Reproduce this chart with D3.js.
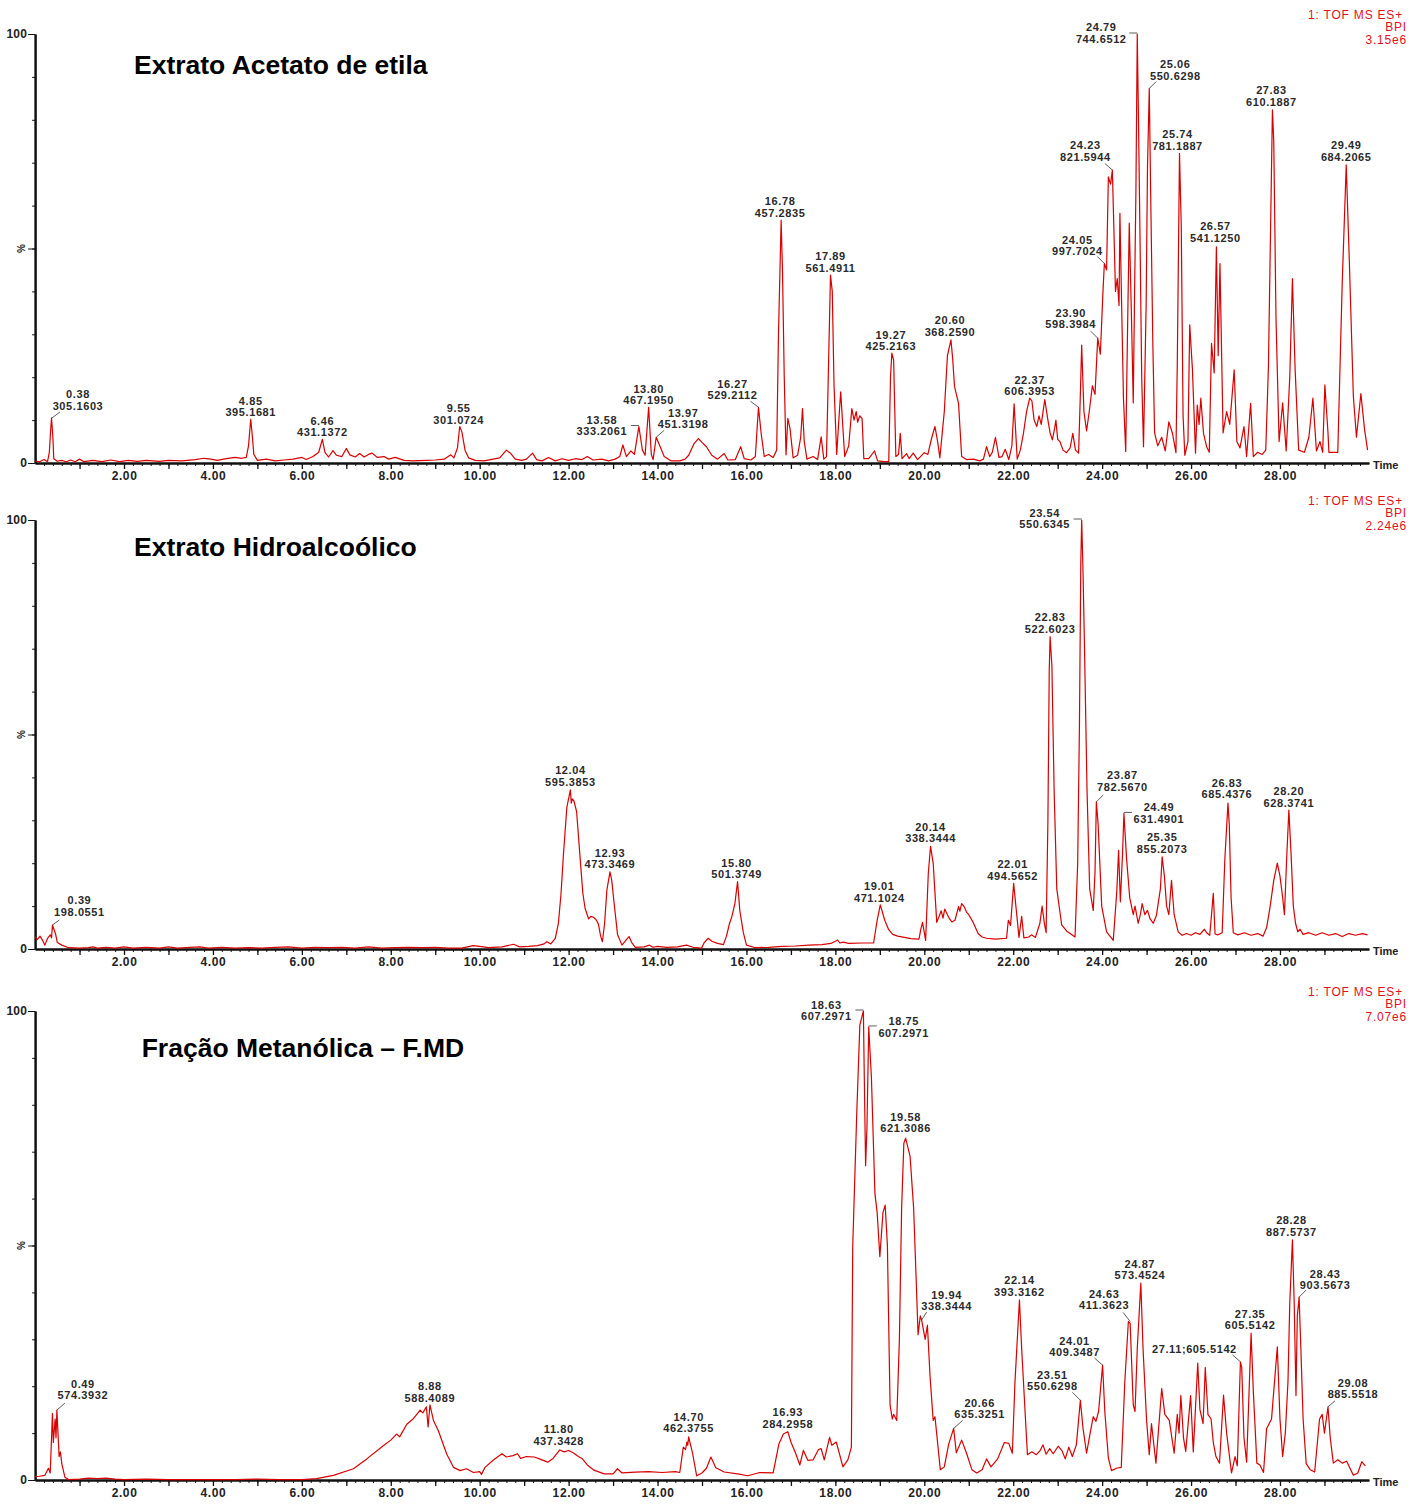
<!DOCTYPE html>
<html lang="en">
<head>
  <meta charset="UTF-8">
  <title>Cromatogramas BPI</title>
  <script src="https://d3js.org/d3.v7.min.js"></script>
  <style>
    body { margin: 0; background: #fff; }
    svg { display: block; font-family: Arial, "Liberation Sans", sans-serif; }
    .trace { fill: none; stroke: #d80000; stroke-width: 1.2px; stroke-linejoin: round; }
    .axis path, .axis line { stroke: #111; }
    .axis .domain { stroke-width: 2px; }
    .axis text { font-size: 12px; font-weight: bold; fill: #222; letter-spacing: 0.6px; }
    .title { font-size: 26.5px; font-weight: bold; fill: #000; }
    .info { font-size: 12px; fill: #e2101a; letter-spacing: 0.8px; text-anchor: end; }
    .peak { font-size: 11px; font-weight: bold; fill: #2a2a2a; letter-spacing: 0.6px; text-anchor: middle; }
    .leader { stroke: #333; stroke-width: 0.8px; }
    .small { font-size: 11px; font-weight: bold; fill: #222; }
  </style>
</head>
<body>

<svg width="1422" height="1508"></svg>

<script>
  // ---- data ----
  const titles = ["Extrato Acetato de etila", "Extrato Hidroalcoólico", "Fração Metanólica – F.MD"];
  const intensities = ["3.15e6", "2.24e6", "7.07e6"];
  const infoLines = ["1: TOF MS ES+", "BPI"];
  const xLabelTicks = [2, 4, 6, 8, 10, 12, 14, 16, 18, 20, 22, 24, 26, 28];

  // [time (min), relative intensity %]
  const acetatoTrace = [[0,0.4],[0.1,0.3],[0.2,0.8],[0.28,0.3],[0.32,2.5],[0.35,7.7],[0.37,10.5],[0.4,6],[0.42,1],[0.5,0.4],[0.6,0.6],[0.7,0.3],[0.8,0.7],[0.9,0.3],[1.0,0.9],[1.1,0.3],[1.3,0.6],[1.5,0.3],[1.7,0.7],[1.9,0.3],[2.1,0.6],[2.3,0.4],[2.5,0.6],[2.8,0.4],[3.0,0.6],[3.3,0.5],[3.6,0.8],[3.8,1.1],[3.95,0.9],[4.1,0.6],[4.3,1.0],[4.5,1.3],[4.65,1.1],[4.75,1.3],[4.8,4],[4.85,10.2],[4.88,7],[4.92,2],[5.0,0.6],[5.2,0.9],[5.4,0.5],[5.6,0.7],[5.8,0.9],[6.0,1.3],[6.1,0.8],[6.25,1.5],[6.38,2.5],[6.46,5.5],[6.52,2.5],[6.6,1.4],[6.7,2.9],[6.78,1.8],[6.9,1.5],[7.0,3.4],[7.08,1.9],[7.2,1.4],[7.3,2.2],[7.4,1.4],[7.5,2.0],[7.58,2.3],[7.7,1.3],[7.85,1.5],[7.95,0.9],[8.1,1.3],[8.3,0.6],[8.5,0.5],[8.8,0.6],[9.0,0.7],[9.2,0.9],[9.35,1.9],[9.42,1.2],[9.5,3.5],[9.55,8.5],[9.6,7.2],[9.67,3],[9.75,1.2],[9.9,0.6],[10.1,0.5],[10.3,0.9],[10.45,1.2],[10.6,3.0],[10.7,2.2],[10.8,0.9],[10.95,0.6],[11.05,0.9],[11.19,2.3],[11.28,0.8],[11.4,0.5],[11.55,1.3],[11.7,0.5],[11.85,1.0],[12.0,0.6],[12.15,1.0],[12.3,0.8],[12.42,1.5],[12.55,0.7],[12.75,0.9],[12.9,0.5],[13.05,0.9],[13.15,1.5],[13.22,4.2],[13.3,1.5],[13.4,2.8],[13.48,2.0],[13.58,8.5],[13.66,3.0],[13.72,1.8],[13.8,13.0],[13.86,2.0],[13.9,0.8],[13.97,6.0],[14.05,4],[14.15,1.5],[14.3,0.5],[14.5,0.5],[14.62,0.9],[14.7,1.8],[14.82,4.5],[14.92,5.7],[15.0,4.8],[15.1,3.8],[15.22,1.8],[15.35,0.9],[15.5,2.2],[15.58,0.7],[15.75,0.8],[15.87,3.8],[15.95,1.0],[16.1,0.7],[16.2,1.5],[16.27,13.0],[16.33,7],[16.4,1.5],[16.5,2.0],[16.6,1.3],[16.68,3],[16.72,30],[16.78,56.6],[16.81,45],[16.85,20],[16.89,1.9],[16.93,10.4],[16.98,8],[17.05,1.2],[17.15,1.8],[17.22,6],[17.26,12.7],[17.3,5],[17.36,0.9],[17.5,1.5],[17.6,0.8],[17.68,6.1],[17.74,0.9],[17.8,1.5],[17.84,20],[17.89,43.8],[17.93,40],[17.97,18],[18.03,2.0],[18.09,12],[18.12,16.6],[18.17,8],[18.21,1.5],[18.3,4],[18.37,12.7],[18.42,10],[18.47,12],[18.5,9.5],[18.55,11],[18.6,10.4],[18.64,1.0],[18.75,1.0],[18.88,2.8],[18.95,0.5],[19.1,0.3],[19.2,0.3],[19.24,20],[19.27,25.6],[19.31,24],[19.36,1.5],[19.42,2],[19.46,6.9],[19.5,1.0],[19.6,2.2],[19.66,1.0],[19.75,2.3],[19.85,0.8],[20.0,2.4],[20.08,2.0],[20.17,6],[20.24,8.5],[20.3,5],[20.35,1.2],[20.45,12],[20.52,25],[20.6,28.7],[20.64,24],[20.68,17.8],[20.77,13.9],[20.84,1.5],[20.95,0.8],[21.1,0.9],[21.25,0.5],[21.33,0.9],[21.4,3.8],[21.47,1.5],[21.53,2.5],[21.6,6.0],[21.68,1.3],[21.75,1.5],[21.82,3.2],[21.9,0.8],[21.97,4],[22.02,13.8],[22.09,0.9],[22.16,3],[22.23,6.9],[22.3,12],[22.37,15.1],[22.42,14.5],[22.47,10],[22.53,8.5],[22.58,11],[22.63,9],[22.71,14.8],[22.78,10],[22.83,7],[22.88,5.4],[22.93,8],[22.96,10],[23.0,5.5],[23.05,5],[23.12,3],[23.2,2.4],[23.28,3.5],[23.34,6.9],[23.4,3],[23.47,2.3],[23.51,16],[23.54,27.5],[23.59,12],[23.65,7.5],[23.71,12],[23.78,18],[23.84,16],[23.9,29.1],[23.96,25.4],[24.02,40.3],[24.05,46.5],[24.1,45],[24.14,66.7],[24.19,65],[24.23,68.3],[24.3,40],[24.34,43],[24.38,36.7],[24.4,58.2],[24.44,36],[24.48,15],[24.53,2.7],[24.57,30],[24.61,55.9],[24.66,34],[24.7,14],[24.73,40],[24.76,63.6],[24.79,100],[24.82,78],[24.85,54],[24.89,20],[24.93,3.8],[24.99,37],[25.02,69],[25.06,87.3],[25.09,64],[25.14,28],[25.18,7],[25.25,4],[25.34,6],[25.42,2.8],[25.5,9.6],[25.58,7],[25.66,2.4],[25.69,23],[25.74,72.2],[25.78,55],[25.82,11],[25.86,1.8],[25.93,5],[25.97,32.2],[26.03,22],[26.1,2.3],[26.14,13.5],[26.18,9],[26.22,15.1],[26.28,6.9],[26.35,3.8],[26.41,2.5],[26.46,27.9],[26.52,21],[26.57,50.4],[26.61,25],[26.65,46.5],[26.72,7],[26.8,12],[26.87,9],[26.97,21.7],[27.03,5],[27.1,3.5],[27.19,8.5],[27.25,1.5],[27.34,13.9],[27.4,1.5],[27.5,2.5],[27.6,2.0],[27.68,3],[27.74,22.4],[27.83,82.3],[27.86,75],[27.91,34],[27.98,5],[28.06,14],[28.14,2.8],[28.22,20],[28.28,43],[28.34,22],[28.42,3],[28.55,2.5],[28.65,6],[28.74,15.1],[28.82,2.8],[28.9,5],[28.96,2.5],[29.01,18.2],[29.08,7],[29.1,2.5],[29.3,2.5],[29.4,42],[29.49,69.5],[29.56,47],[29.65,15.6],[29.72,6],[29.82,16.2],[29.9,8],[29.97,3]];

  const hidroTrace = [[0,2.9],[0.05,2.2],[0.11,3.0],[0.17,2.0],[0.22,0.9],[0.28,2.5],[0.34,3.3],[0.37,2.6],[0.39,5.6],[0.46,3.5],[0.5,1.5],[0.6,0.9],[0.75,0.3],[1.0,0.2],[1.2,0.3],[1.3,0.5],[1.4,0.2],[1.6,0.4],[1.8,0.2],[2.0,0.5],[2.2,0.2],[2.5,0.4],[2.8,0.2],[3.0,0.5],[3.2,0.2],[3.5,0.4],[3.7,0.5],[3.9,0.2],[4.2,0.4],[4.5,0.2],[4.8,0.3],[5.1,0.2],[5.4,0.4],[5.7,0.5],[6.0,0.2],[6.3,0.4],[6.6,0.3],[6.9,0.4],[7.2,0.2],[7.5,0.5],[7.8,0.2],[8.1,0.3],[8.4,0.4],[8.7,0.3],[9.0,0.4],[9.3,0.2],[9.6,0.2],[9.85,0.8],[10.0,0.6],[10.2,0.3],[10.5,0.5],[10.76,1.1],[10.9,0.5],[11.1,0.6],[11.3,0.8],[11.45,1.2],[11.51,1.7],[11.6,1.2],[11.7,2.5],[11.77,6],[11.83,13],[11.88,21.5],[11.96,33],[12.04,37.1],[12.06,34],[12.08,35],[12.12,34.5],[12.18,32],[12.26,21],[12.32,13],[12.37,9.5],[12.45,7],[12.5,7.6],[12.56,7.4],[12.62,6.8],[12.67,5.8],[12.72,3.0],[12.76,1.7],[12.81,6],[12.86,13.7],[12.93,18],[12.97,16],[13.02,11],[13.1,3.4],[13.2,0.9],[13.3,2.2],[13.36,2.9],[13.42,1.5],[13.5,0.4],[13.7,0.5],[13.82,0.9],[13.9,0.4],[14.0,0.6],[14.2,0.4],[14.45,0.5],[14.65,0.9],[14.8,0.4],[14.99,0.2],[15.05,1.5],[15.14,2.5],[15.22,1.8],[15.35,1.3],[15.48,1.0],[15.55,3],[15.62,6],[15.67,7.5],[15.74,10.6],[15.8,15.7],[15.85,9],[15.93,3.8],[16.0,0.9],[16.2,0.3],[16.5,0.4],[16.8,0.6],[17.1,0.7],[17.4,0.9],[17.7,1.0],[17.9,1.3],[18.0,1.8],[18.05,2.1],[18.1,1.4],[18.17,1.6],[18.3,1.3],[18.6,1.4],[18.86,1.4],[18.94,6.7],[19.01,10.3],[19.11,6.7],[19.2,4.5],[19.29,3.4],[19.4,3.0],[19.55,2.7],[19.7,2.4],[19.88,2.3],[19.92,4.5],[19.96,6.2],[20.03,2.0],[20.09,17.6],[20.14,23.9],[20.2,20],[20.28,6.2],[20.33,7.5],[20.38,8.9],[20.42,7.2],[20.46,9.3],[20.52,8],[20.57,7],[20.62,6.3],[20.69,6.7],[20.77,9.9],[20.8,8.8],[20.84,10.6],[20.9,9.8],[20.95,8.6],[21.0,8.0],[21.1,6.2],[21.21,3.6],[21.3,2.8],[21.4,2.5],[21.6,2.3],[21.85,2.5],[21.89,6.7],[21.94,5.5],[22.01,15.3],[22.06,10],[22.13,2.7],[22.19,7.6],[22.24,2.6],[22.35,2.8],[22.41,3.3],[22.5,2.7],[22.6,6],[22.65,10],[22.7,6],[22.74,3.8],[22.78,29.7],[22.81,65],[22.83,72.8],[22.87,66],[22.92,37],[22.98,14],[23.09,5.6],[23.2,4.2],[23.28,3.6],[23.39,2.8],[23.45,20],[23.49,52.6],[23.52,90],[23.54,100],[23.57,88],[23.6,72],[23.66,37],[23.72,14],[23.8,9],[23.84,18],[23.87,34.3],[23.91,29],[23.99,10],[24.1,4],[24.25,2],[24.33,13.5],[24.37,23],[24.41,11],[24.46,22.5],[24.49,31.6],[24.55,21],[24.62,12],[24.7,8],[24.74,10],[24.81,6],[24.86,8],[24.9,10.6],[24.96,8],[25.02,9],[25.08,7],[25.15,6],[25.22,7.8],[25.31,14],[25.35,21.5],[25.4,17],[25.45,10],[25.5,8],[25.56,16],[25.62,8],[25.71,4],[25.8,3.2],[25.9,3.6],[26.0,3.2],[26.1,3.8],[26.2,3.4],[26.3,4.6],[26.35,3.8],[26.42,3.2],[26.46,8],[26.5,13],[26.54,3.5],[26.6,3.3],[26.7,3.8],[26.76,21],[26.83,34],[26.86,29],[26.9,12],[26.95,3.8],[27.05,3.3],[27.2,3.8],[27.35,3.2],[27.5,3.6],[27.62,3],[27.7,5],[27.78,10],[27.86,16],[27.94,20],[28.0,17],[28.06,12],[28.1,8],[28.15,21],[28.2,32.4],[28.25,22],[28.3,10],[28.35,6],[28.4,4],[28.45,4.6],[28.52,3.4],[28.65,3.8],[28.8,3.2],[28.95,3.8],[29.1,3.2],[29.25,3.6],[29.4,2.9],[29.55,3.6],[29.7,3.2],[29.85,3.6],[29.97,3.3]];

  const metanolTrace = [[0,0.7],[0.1,0.8],[0.22,1.0],[0.3,2.5],[0.34,1.5],[0.37,9],[0.39,14.2],[0.41,8],[0.45,13],[0.47,9],[0.49,14.9],[0.54,5],[0.57,6],[0.6,3.5],[0.67,0.6],[0.75,0.1],[1.0,0.2],[1.2,0.4],[1.4,0.3],[1.6,0.4],[1.8,0.2],[2.0,0.1],[2.5,0.2],[3.0,0.1],[3.5,0.1],[4.0,0.1],[4.5,0.1],[5.0,0.2],[5.5,0.1],[6.0,0.1],[6.33,0.3],[6.71,1.0],[7.16,2.4],[7.46,4.5],[7.83,7.3],[8.0,8.5],[8.13,9.8],[8.2,9.2],[8.36,11.9],[8.5,13],[8.66,14.9],[8.72,14.3],[8.8,15.6],[8.84,11.3],[8.88,16],[8.96,12.7],[9.07,10.5],[9.26,5.5],[9.41,2.7],[9.56,2.0],[9.7,2.4],[9.86,1.6],[10.0,1.8],[10.04,1.2],[10.12,2.7],[10.3,4.2],[10.5,5.6],[10.6,4.9],[10.75,5.2],[10.85,5.6],[10.92,4.6],[11.05,5.0],[11.23,4.9],[11.4,4.3],[11.53,3.8],[11.65,4.6],[11.8,6.4],[11.9,6.0],[12.0,6.3],[12.1,5.8],[12.22,5.0],[12.3,4.6],[12.42,3.2],[12.57,2.1],[12.8,1.3],[13.0,1.3],[13.1,2.4],[13.2,1.5],[13.5,1.7],[13.8,1.8],[14.1,1.6],[14.4,1.8],[14.5,1.6],[14.58,7],[14.63,6.5],[14.66,8.1],[14.68,7.4],[14.7,9.2],[14.79,5.6],[14.88,0.9],[15.0,1.5],[15.1,2.5],[15.2,4.9],[15.31,2.6],[15.5,1.7],[15.8,1.3],[16.03,0.9],[16.3,1.6],[16.6,1.5],[16.73,7.7],[16.83,9.8],[16.93,10.3],[17.0,8.1],[17.11,5.6],[17.2,3.2],[17.28,6.3],[17.38,4.2],[17.5,4.3],[17.62,6.5],[17.68,6.7],[17.75,4.3],[17.87,9.1],[17.92,7.4],[18.02,8.1],[18.17,2.8],[18.28,4.3],[18.36,7],[18.39,49.7],[18.48,78],[18.55,97],[18.63,100],[18.65,86],[18.68,67],[18.71,75],[18.75,96.6],[18.81,86],[18.89,61],[18.94,57],[19.0,47.6],[19.07,57],[19.12,58.6],[19.17,50],[19.23,16],[19.28,13],[19.31,14],[19.38,12.7],[19.44,30],[19.49,58],[19.54,71.8],[19.58,72.9],[19.68,69],[19.76,58],[19.82,42],[19.86,31],[19.91,35],[19.94,34.1],[20.02,30],[20.07,33],[20.13,22],[20.2,12.7],[20.24,13.5],[20.36,2.2],[20.45,2.8],[20.55,7.7],[20.66,11],[20.72,5.8],[20.84,8.5],[20.95,5.7],[21.07,2.2],[21.18,1.5],[21.3,2.2],[21.4,4.5],[21.5,2.8],[21.65,4.5],[21.8,8],[21.9,7.8],[21.98,5.7],[22.04,21],[22.14,38.4],[22.19,28],[22.27,14],[22.32,5.4],[22.42,6],[22.52,5.4],[22.6,6.2],[22.67,7.5],[22.74,5.5],[22.82,6.7],[22.9,5.6],[23.01,7.2],[23.1,6.2],[23.17,4.5],[23.25,7],[23.33,5],[23.42,7.5],[23.51,17],[23.57,11],[23.65,5.7],[23.73,10],[23.8,13.5],[23.86,12.5],[23.92,14.6],[24.01,24.5],[24.06,14.6],[24.14,4.7],[24.21,2.0],[24.32,2.5],[24.43,2.7],[24.51,21],[24.59,33.8],[24.63,33.4],[24.7,16],[24.74,14.6],[24.79,28],[24.87,42],[24.92,28],[25.0,12.7],[25.06,5.4],[25.11,12],[25.21,3.6],[25.34,19.5],[25.41,14],[25.51,12.7],[25.62,5.7],[25.69,14],[25.73,10],[25.77,18],[25.83,9],[25.88,6.1],[25.99,18],[26.05,6],[26.15,24.9],[26.2,15],[26.27,12],[26.32,24],[26.38,14],[26.45,13],[26.5,8],[26.56,5],[26.64,3.6],[26.73,18.1],[26.8,10],[26.91,1.5],[26.99,5],[27.04,3],[27.11,25.2],[27.14,24],[27.19,9],[27.25,3.8],[27.35,31.3],[27.4,19],[27.48,3.6],[27.55,3.2],[27.63,1.6],[27.7,11],[27.81,13],[27.94,28.4],[28.0,13],[28.06,5],[28.12,10],[28.18,21],[28.22,37.7],[28.28,51.2],[28.32,37.7],[28.36,18],[28.39,35],[28.43,39],[28.47,28],[28.52,13],[28.59,3.5],[28.68,2.2],[28.78,1.7],[28.89,13],[28.95,14],[29.0,10],[29.08,15.6],[29.13,9],[29.2,3.6],[29.3,4.3],[29.4,3.6],[29.5,4],[29.65,1.0],[29.75,1.5],[29.84,3.9],[29.92,3]];

  // peak annotations: [retention time, m/z, intensity %]
  const acetatoPeaks = [["0.38","305.1603",10.5],["4.85","395.1681",10.2],["6.46","431.1372",5.5],["9.55","301.0724",8.5],["13.58","333.2061",8.5],["13.80","467.1950",13.0],["13.97","451.3198",6.0],["16.27","529.2112",13.0],["16.78","457.2835",56.6],["17.89","561.4911",43.8],["19.27","425.2163",25.6],["20.60","368.2590",28.7],["22.37","606.3953",15.1],["23.90","598.3984",29.1],["24.05","997.7024",46.5],["24.23","821.5944",68.3],["24.79","744.6512",100],["25.06","550.6298",87.3],["25.74","781.1887",72.2],["26.57","541.1250",50.4],["27.83","610.1887",82.3],["29.49","684.2065",69.5]];
  const hidroPeaks = [["0.39","198.0551",5.6],["12.04","595.3853",37.1],["12.93","473.3469",18],["15.80","501.3749",15.7],["19.01","471.1024",10.3],["20.14","338.3444",23.9],["22.01","494.5652",15.3],["22.83","522.6023",72.8],["23.54","550.6345",100],["23.87","782.5670",34.3],["24.49","631.4901",31.6],["25.35","855.2073",21.5],["26.83","685.4376",34],["28.20","628.3741",32.4]];
  const metanolPeaks = [["0.49","574.3932",14.9],["8.88","588.4089",16],["11.80","437.3428",6.4],["14.70","462.3755",9.2],["16.93","284.2958",10.3],["18.63","607.2971",100],["18.75","607.2971",96.6],["19.58","621.3086",72.9],["19.94","338.3444",34.1],["20.66","635.3251",11],["22.14","393.3162",38.4],["23.51","550.6298",17],["24.01","409.3487",24.5],["24.63","411.3623",33.8],["24.87","573.4524",42],["27.11;605.5142","",25.2],["27.35","605.5142",31.3],["28.28","887.5737",51.2],["28.43","903.5673",39],["29.08","885.5518",15.6]];

  // label placement in px relative to the peak top: [dx, dy of last line, leader dx, leader dy]
  const acetatoLabelPos = [[26,-8,8,-6],[0,-3,0,0],[0,-3,0,0],[-1,-3,0,0],[-37,8.5,-8,0],[0,-3,0,0],[27,-9,8,-7],[-26,-8,-8,-6],[-1,-3.5,0,0],[0,-3.5,0,0],[-1,-3,0,0],[-1,-4,0,0],[0,-3,0,0],[-27,-10,-7,-7],[-27,-8.5,-7,-7],[-27,-9,-7.5,-6.5],[-36,8.5,-8,0],[26,-8.5,7,-7],[-2,-3.5,0,0],[-1,-5,0,0],[-1,-4,0,0],[0,-4,0,0]];
  const hidroLabelPos = [[27,-9,7,-5],[0,-4,0,0],[0,-3.5,0,0],[-1,-3.3,0,0],[-1,-3,0,0],[0,-4,0,0],[-1,-3.4,0,0],[0,-4,0,0],[-37,8.3,-8,0],[26,-11,7,-7],[35,9.3,8,0],[0,-4,0,0],[-1,-5,0,0],[0,-3.3,0,0]];
  const metanolLabelPos = [[26,-11,8,-7],[0,-3.3,0,0],[-1,-5,0,0],[0,-4.6,0,0],[0,-4,0,0],[-37,9,-8,0],[35,9.7,8,0],[0,-5.8,0,0],[25,-10,5,-8],[26,-10,9,-8],[0,-4,0,0],[-28,-10,-8,-8],[-28,-9,-8,-7],[-26,-12,-7,-9],[-1,-4,0,0],[-46,-9,-8,-7],[-1,-4,0,0],[-1,-4,0,0],[26,-8,7,-7],[25,-8.5,7,-6]];

  // ---- layout of the three stacked panels ----
  const panels = [
    { top: 34, bottom: 463, titleX: 134, titleDy: 40, trace: acetatoTrace, peaks: acetatoPeaks, pos: acetatoLabelPos },
    { top: 520, bottom: 949, titleX: 134, titleDy: 35.7, trace: hidroTrace, peaks: hidroPeaks, pos: hidroLabelPos },
    { top: 1011, bottom: 1480, titleX: 141.7, titleDy: 45.7, trace: metanolTrace, peaks: metanolPeaks, pos: metanolLabelPos }
  ];

  const svg = d3.select("svg");
  const x = d3.scaleLinear().domain([0, 30]).range([35.1, 1368.9]);

  panels.forEach((p, i) => {
    const y = d3.scaleLinear().domain([0, 100]).range([p.bottom, p.top]);
    const g = svg.append("g");

    // x axis: minor ticks every 0.2 min, major every minute, labels every 2 min
    g.append("g")
      .attr("class", "axis")
      .attr("transform", `translate(0,${p.bottom})`)
      .call(d3.axisBottom(x).tickValues(d3.range(1, 150).map(k => k / 5)).tickSize(3).tickSizeOuter(0).tickFormat(""))
      .call(a => a.selectAll(".tick line").attr("stroke-width", 1));

    g.append("g")
      .attr("class", "axis")
      .attr("transform", `translate(0,${p.bottom})`)
      .call(d3.axisBottom(x).tickValues(d3.range(1, 30)).tickSize(6).tickSizeOuter(0).tickPadding(2.5)
        .tickFormat(t => xLabelTicks.includes(t) ? t.toFixed(2) : ""))
      .call(a => a.selectAll(".tick line").attr("stroke-width", 1.3));

    // y axis: 0 and 100 labelled, minor ticks every 10 %
    g.append("g")
      .attr("class", "axis")
      .attr("transform", `translate(${x(0)},0)`)
      .call(d3.axisLeft(y).tickValues(d3.range(10, 100, 10)).tickSize(3).tickSizeOuter(0).tickFormat(""))
      .call(a => a.selectAll(".tick line").attr("stroke-width", 1));

    g.append("g")
      .attr("class", "axis")
      .attr("transform", `translate(${x(0)},0)`)
      .call(d3.axisLeft(y).tickValues([0, 50, 100]).tickSize(7).tickSizeOuter(0).tickPadding(1)
        .tickFormat(v => v === 50 ? "" : v))
      .call(a => a.selectAll("text").style("font-size", "12px").style("letter-spacing", "0.2px"));

    g.append("text")
      .attr("class", "small")
      .attr("transform", `translate(25,${y(50)}) rotate(-90)`)
      .attr("text-anchor", "middle")
      .style("font-size", "10px")
      .text("%");

    g.append("text")
      .attr("class", "small")
      .attr("x", 1373)
      .attr("y", p.bottom + 5.5)
      .text("Time");

    // instrument info, top right
    infoLines.concat([intensities[i]]).forEach((s, k) => {
      g.append("text")
        .attr("class", "info")
        .attr("x", k === 0 ? 1403 : 1407)
        .attr("y", p.top - 15.5 + k * 12.7)
        .text(s);
    });

    g.append("text")
      .attr("class", "title")
      .attr("x", p.titleX)
      .attr("y", p.top + p.titleDy)
      .text(titles[i]);

    // chromatogram trace
    const line = d3.line().x(d => x(d[0])).y(d => y(d[1]));
    g.append("path")
      .datum(p.trace)
      .attr("class", "trace")
      .attr("d", line);

    // peak labels with their small leader lines
    p.peaks.forEach((pk, k) => {
      const [dx, dy, lx, ly] = p.pos[k];
      const px = x(parseFloat(pk[0])), py = y(pk[2]);
      if (lx !== 0 || ly !== 0) {
        const y0 = ly === 0 ? py - 1 : py;
        g.append("line")
          .attr("class", "leader")
          .attr("x1", px).attr("y1", y0)
          .attr("x2", px + lx).attr("y2", y0 + ly);
      }
      const base = py + dy;
      if (pk[1] === "") {
        g.append("text").attr("class", "peak").attr("x", px + dx).attr("y", base).text(pk[0]);
      } else {
        g.append("text").attr("class", "peak").attr("x", px + dx).attr("y", base - 11.5).text(pk[0]);
        g.append("text").attr("class", "peak").attr("x", px + dx).attr("y", base).text(pk[1]);
      }
    });
  });
</script>

</body>
</html>
